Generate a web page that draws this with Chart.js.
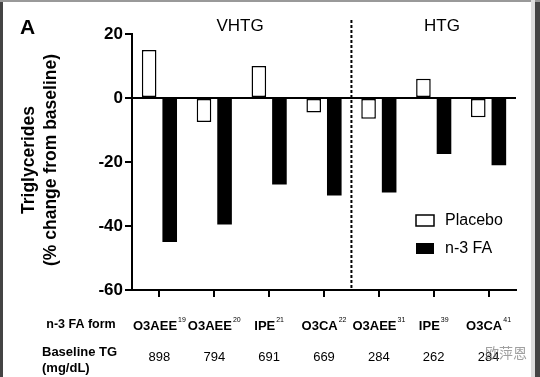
<!DOCTYPE html>
<html>
<head>
<meta charset="utf-8">
<script src="https://cdn.jsdelivr.net/npm/chart.js@4/dist/chart.umd.min.js"></script>
<style>
  body { margin: 0; background: #fff; }
  #wrap { width: 540px; height: 377px; position: relative; }
</style>
</head>
<body>
<div id="wrap"><canvas id="myChart"></canvas></div>
<script>
// data
const forms = ['O3AEE', 'O3AEE', 'IPE', 'O3CA', 'O3AEE', 'IPE', 'O3CA'];
const refs = ['19', '20', '21', '22', '31', '39', '41'];
const baselineTG = ['898', '794', '691', '669', '284', '262', '284'];
const placebo = [15, -7.5, 10, -4.5, -6.5, 6, -6];
const n3fa = [-45, -39.5, -27, -30.5, -29.5, -17.5, -21];
const yTicks = [20, 0, -20, -40, -60];

const FONT = '"Liberation Sans", Arial, sans-serif';

const extras = {
    id: 'extras',
    beforeDraw(chart) {
        const c = chart.ctx;
        c.save();
        c.fillStyle = '#fff';
        c.fillRect(0, 0, chart.width, chart.height);
        c.restore();
    },
    afterDraw(chart) {
        const c = chart.ctx;
        const x = chart.scales.x;
        const y = chart.scales.y;
        c.save();
        c.fillStyle = '#000';
        c.textBaseline = 'middle';

        // panel letter and group labels
        c.font = 'bold 21px ' + FONT;
        c.textAlign = 'left';
        c.fillText('A', 20, 28);
        c.font = '17px ' + FONT;
        c.textAlign = 'center';
        c.fillText('VHTG', 240, 26);
        c.fillText('HTG', 442, 26);

        // dashed separator between VHTG and HTG
        const sx = (x.getPixelForValue(3) + x.getPixelForValue(4)) / 2;
        c.strokeStyle = '#000';
        c.lineWidth = 2;
        c.setLineDash([3, 2]);
        c.beginPath();
        c.moveTo(sx, 20);
        c.lineTo(sx, y.bottom);
        c.stroke();
        c.setLineDash([]);

        // y title
        c.save();
        c.translate(29, 160);
        c.rotate(-Math.PI / 2);
        c.font = 'bold 17.5px ' + FONT;
        c.fillText('Triglycerides', 0, 0);
        c.fillText('(% change from baseline)', 0, 22);
        c.restore();

        // legend
        c.lineWidth = 1.5;
        c.strokeRect(416, 215, 18, 11);
        c.fillRect(416, 243, 18, 11);
        c.font = '16px ' + FONT;
        c.textAlign = 'left';
        c.fillText('Placebo', 445, 221);
        c.fillText('n-3 FA', 445, 249);

        // rows under the axis
        c.font = 'bold 12.5px ' + FONT;
        c.textAlign = 'center';
        c.fillText('n-3 FA form', 81, 325);
        c.textAlign = 'left';
        c.font = 'bold 13px ' + FONT;
        c.fillText('Baseline TG', 42, 352);
        c.fillText('(mg/dL)', 42, 368);

        forms.forEach((f, i) => {
            const cx = x.getPixelForValue(i);
            c.font = 'bold 13px ' + FONT;
            const w1 = c.measureText(f).width;
            c.font = '7px ' + FONT;
            const w2 = c.measureText(refs[i]).width;
            const left = cx - (w1 + w2 + 1) / 2;
            c.font = 'bold 13px ' + FONT;
            c.textAlign = 'left';
            c.fillText(f, left, 326);
            c.font = '7px ' + FONT;
            c.fillText(refs[i], left + w1 + 1, 320);
            c.font = '13px ' + FONT;
            c.textAlign = 'center';
            c.fillText(baselineTG[i], cx, 357);
        });

        // watermark
        c.fillStyle = 'rgba(120,120,120,0.7)';
        c.font = '14px "Noto Sans CJK SC", sans-serif';
        c.textAlign = 'left';
        c.fillText('欧萍恩', 485, 353);

        // picture frame
        c.fillStyle = '#444';
        c.fillRect(0, 0, 3, chart.height);
        c.fillRect(535, 0, 5, chart.height);
        c.fillStyle = '#999';
        c.fillRect(0, 0, chart.width, 2);
        c.fillStyle = '#ddd';
        c.fillRect(531, 0, 4, chart.height);
        c.restore();
    }
};

const ctx = document.getElementById('myChart').getContext('2d');
new Chart(ctx, {
    type: 'bar',
    data: {
        labels: forms.map((f, i) => f + refs[i]),
        datasets: [
            {
                label: 'Placebo',
                data: placebo,
                backgroundColor: '#fff',
                borderColor: '#000',
                borderWidth: 1.5,
                borderSkipped: false
            },
            {
                label: 'n-3 FA',
                data: n3fa,
                backgroundColor: '#000',
                borderColor: '#000',
                borderWidth: 0
            }
        ]
    },
    options: {
        responsive: true,
        maintainAspectRatio: false,
        animation: false,
        layout: { padding: { top: 34, right: 24, left: 0, bottom: 0 } },
        categoryPercentage: 0.75,
        barPercentage: 0.71,
        plugins: {
            legend: { display: false },
            tooltip: { enabled: false }
        },
        scales: {
            x: {
                grid: {
                    offset: false,
                    drawOnChartArea: false,
                    tickLength: 7,
                    tickColor: '#000',
                    lineWidth: 2
                },
                border: { color: '#000', width: 2 },
                ticks: { display: false },
                afterFit: scale => { scale.height = 87; }
            },
            y: {
                min: -60,
                max: 20,
                afterBuildTicks: scale => { scale.ticks = yTicks.map(v => ({ value: v })); },
                grid: {
                    color: c => (c.tick && c.tick.value === 0 ? '#000' : 'rgba(0,0,0,0)'),
                    tickColor: '#000',
                    lineWidth: 2,
                    tickLength: 7
                },
                border: { color: '#000', width: 2 },
                ticks: {
                    color: '#000',
                    padding: 2,
                    font: { family: FONT, size: 17, weight: 'bold' }
                },
                afterFit: scale => { scale.width = 132; }
            }
        }
    },
    plugins: [extras]
});
</script>
</body>
</html>
